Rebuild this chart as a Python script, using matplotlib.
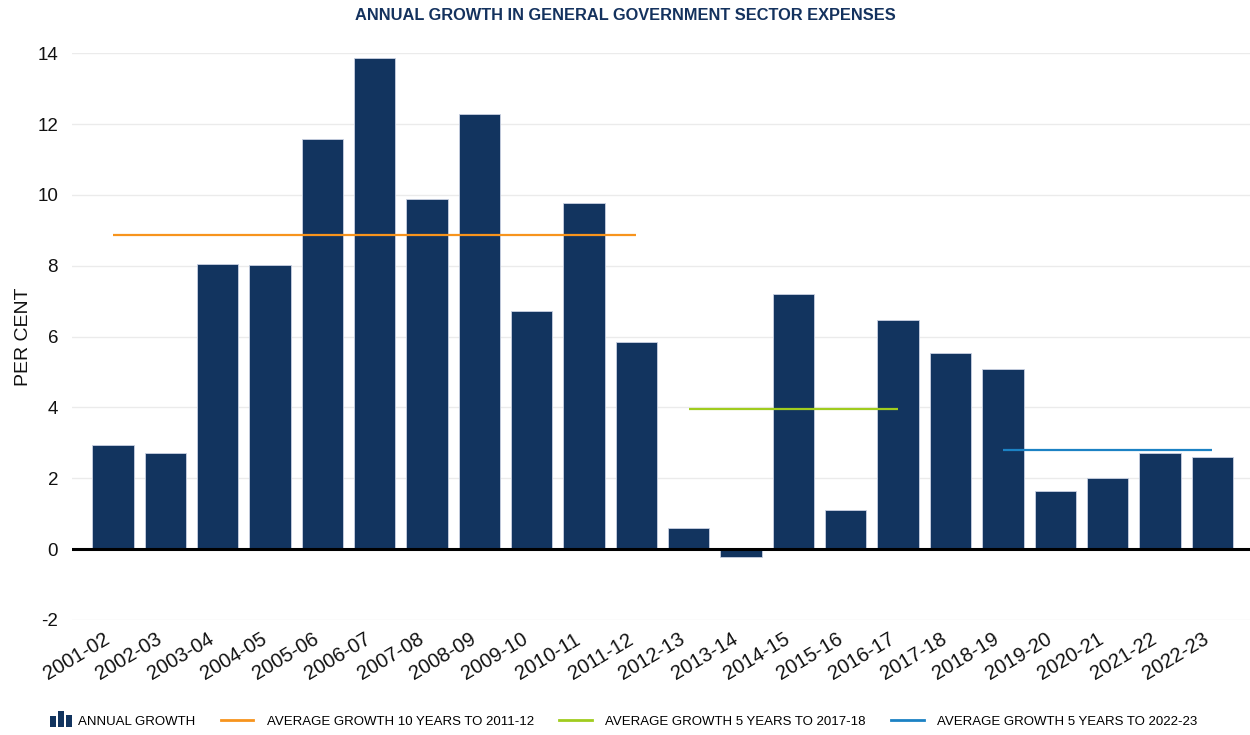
"""Annual growth in general government sector expenses, with period averages."""

import matplotlib

matplotlib.use("Agg")
import matplotlib.pyplot as plt
from matplotlib.legend_handler import HandlerBase
from matplotlib.lines import Line2D
from matplotlib.patches import Rectangle
from matplotlib.transforms import ScaledTranslation

years = [
    "2001-02", "2002-03", "2003-04", "2004-05", "2005-06", "2006-07",
    "2007-08", "2008-09", "2009-10", "2010-11", "2011-12", "2012-13",
    "2013-14", "2014-15", "2015-16", "2016-17", "2017-18", "2018-19",
    "2019-20", "2020-21", "2021-22", "2022-23",
]
growth = [
    2.95, 2.72, 8.05, 8.02, 11.58, 13.87, 9.90, 12.29, 6.71, 9.77, 5.84,
    0.61, -0.21, 7.19, 1.10, 6.46, 5.53, 5.10, 1.63, 2.00, 2.72, 2.59,
]

# average lines: label, value, first and last year the line spans
avg_labels = [
    "AVERAGE GROWTH 10 YEARS TO 2011-12",
    "AVERAGE GROWTH 5 YEARS TO 2017-18",
    "AVERAGE GROWTH 5 YEARS TO 2022-23",
]
avg_values = [8.86, 3.97, 2.81]
avg_start = ["2001-02", "2012-13", "2018-19"]
avg_end = ["2011-12", "2016-17", "2022-23"]
avg_colors = ["#F7941D", "#A0CC1E", "#1C82C4"]

NAVY = "#12345F"


class BarIconHandler(HandlerBase):
    """Small three-bar icon used for the bar series in the legend."""

    def create_artists(self, legend, orig_handle, xdescent, ydescent,
                       width, height, fontsize, trans):
        unit = width / 33.0
        rel_heights = [0.72, 1.0, 0.78]
        arts = []
        for i, h in enumerate(rel_heights):
            r = Rectangle((-xdescent + (18 + i * 8) * unit, -ydescent - 0.25 * height),
                          6 * unit, h * height * 1.75, facecolor=NAVY,
                          edgecolor="none", transform=trans)
            arts.append(r)
        return arts


plt.rcParams["font.family"] = ["Liberation Sans", "DejaVu Sans"]
plt.rcParams["axes.unicode_minus"] = False

fig = plt.figure(figsize=(12.5, 7.35), dpi=100)
ax = fig.add_axes([0.0576, 0.1565, 1 - 0.0576, 0.9275 - 0.1565])

x = list(range(len(years)))
ax.bar(x, growth, width=0.79, color=NAVY, edgecolor="#c9d1e2", linewidth=0.6,
       zorder=2)

for lab, val, s, e, c in zip(avg_labels, avg_values, avg_start, avg_end, avg_colors):
    ax.plot([years.index(s), years.index(e)], [val, val], color=c, lw=1.6,
            solid_capstyle="butt", zorder=3, label=lab)

ax.axhline(0, color="black", lw=2.2, zorder=4)

ax.set_ylim(-2, 14)
ax.set_yticks(range(-2, 15, 2))
ax.set_xlim(-0.78, 21.72)
ax.set_xticks(x)
ax.set_xticklabels(years, rotation=31, ha="right", va="top",
                   rotation_mode="anchor", fontsize=14.5)
ax.tick_params(axis="both", length=0, labelsize=13.5, colors="#111111")
ax.tick_params(axis="x", pad=7, labelsize=14.5)
ax.tick_params(axis="y", pad=10)
# nudge the rotated year labels a little left of the bar centres
shift = ScaledTranslation(-10 / 100, 0, fig.dpi_scale_trans)
for lbl in ax.get_xticklabels():
    lbl.set_transform(lbl.get_transform() + shift)
ax.grid(axis="y", color="#ebebeb", lw=1, zorder=0)
ax.set_axisbelow(True)
for sp in ax.spines.values():
    sp.set_visible(False)
ax.set_ylabel("PER CENT", fontsize=14, labelpad=4, color="#111111")

fig.text(0.5, 0.979, "ANNUAL GROWTH IN GENERAL GOVERNMENT SECTOR EXPENSES",
         ha="center", va="center", fontsize=11.8, fontweight="bold",
         color="#14325E")

bar_handle = Rectangle((0, 0), 1, 1, color=NAVY)
line_handles = [Line2D([], [], color=c, lw=2) for c in avg_colors]
fig.legend([bar_handle] + line_handles, ["ANNUAL GROWTH"] + avg_labels,
           handler_map={Rectangle: BarIconHandler()},
           loc="center left", bbox_to_anchor=(0.0256, 0.0177), ncol=4,
           frameon=False, borderpad=0, borderaxespad=0,
           handlelength=2.5, handletextpad=1.0, columnspacing=1.9,
           prop={"size": 9.5})

fig.savefig("out.png", dpi=100)
